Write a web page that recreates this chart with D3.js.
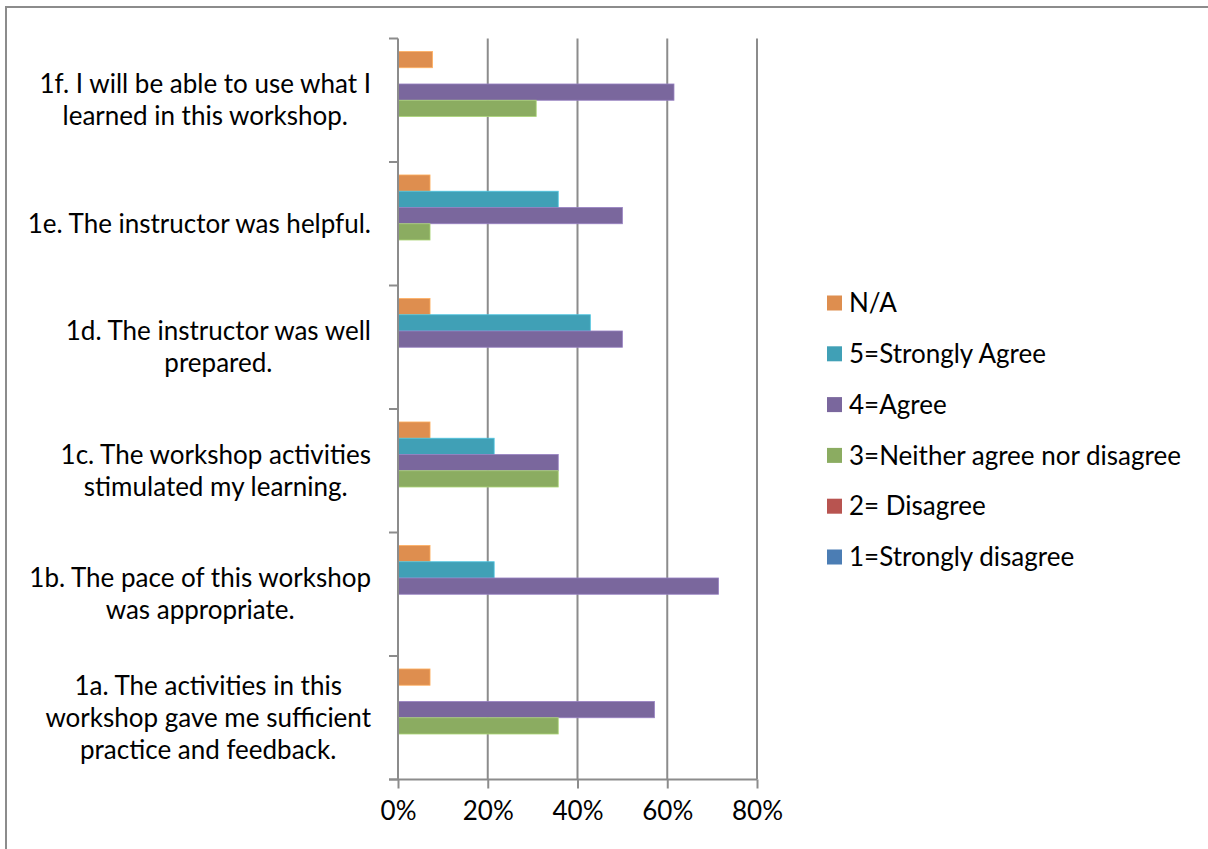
<!DOCTYPE html>
<html>
<head>
<meta charset="utf-8">
<script src="https://cdn.jsdelivr.net/npm/d3@7"></script>
<style>
  html, body { margin: 0; padding: 0; background: #fff; }
  svg { display: block; font-family: Lato, "Open Sans", sans-serif; }
</style>
</head>
<body>
<svg id="chart" width="1208" height="849"></svg>
<script>
// Survey questions, top to bottom as displayed
const questions = [
  "1f. I will be able to use what I\nlearned in this workshop.",
  "1e. The instructor was helpful.",
  "1d. The instructor was well\nprepared.",
  "1c. The workshop activities\nstimulated my learning.",
  "1b. The pace of this workshop\nwas appropriate.",
  "1a. The activities in this\nworkshop gave me sufficient\npractice and feedback."
];

// Response series (share of respondents, %) in the order of the questions above
const seriesNames = ["N/A", "5=Strongly Agree", "4=Agree", "3=Neither agree nor disagree", "2= Disagree", "1=Strongly disagree"];
const naValues       = [7.7, 7.14, 7.14, 7.14, 7.14, 7.14];
const strongAgree    = [0, 35.71, 42.86, 21.43, 21.43, 0];
const agreeValues    = [61.5, 50.0, 50.0, 35.71, 71.43, 57.14];
const neitherValues  = [30.8, 7.14, 0, 35.71, 0, 35.71];
const disagree       = [0, 0, 0, 0, 0, 0];
const strongDisagree = [0, 0, 0, 0, 0, 0];
const seriesValues = [naValues, strongAgree, agreeValues, neitherValues, disagree, strongDisagree];
const seriesColors = ["#de8e4f", "#40a0b6", "#7a679d", "#8bac61", "#b85450", "#4b7db4"];

const xTicks = [0, 20, 40, 60, 80];

const fontSize = "26px";
const svg = d3.select("#chart");

// Outer chart frame
svg.append("rect")
  .attr("x", 6).attr("y", 7)
  .attr("width", 1300).attr("height", 900)
  .attr("fill", "none").attr("stroke", "#8c8c8c").attr("stroke-width", 2);

const plot = { left: 398, right: 757, top: 38.5, bottom: 779.5 };

const x = d3.scaleLinear().domain([0, 80]).range([plot.left, plot.right]);
const y = d3.scaleBand().domain(questions).range([plot.top, plot.bottom]).paddingInner(0.21).paddingOuter(0.105);
const ySub = d3.scaleBand().domain(d3.range(seriesNames.length)).range([0, y.bandwidth()]);

// Vertical gridlines
svg.append("g")
  .selectAll("line")
  .data(xTicks.slice(1))
  .join("line")
  .attr("x1", d => x(d)).attr("x2", d => x(d))
  .attr("y1", plot.top).attr("y2", plot.bottom)
  .attr("stroke", "#8c8c8c").attr("stroke-width", 2);

// Bars
const groups = svg.append("g")
  .selectAll("g")
  .data(questions)
  .join("g")
  .attr("transform", d => `translate(0,${y(d)})`);

groups.selectAll("rect")
  .data((q, qi) => seriesValues.map((vals, si) => ({ si, v: vals[qi] })).filter(d => d.v > 0))
  .join("rect")
  .attr("x", x(0))
  .attr("y", d => ySub(d.si))
  .attr("width", d => x(d.v) - x(0))
  .attr("height", ySub.bandwidth())
  .attr("fill", d => seriesColors[d.si])
  .attr("stroke", d => d3.color(seriesColors[d.si]).brighter(0.6))
  .attr("stroke-width", 0.8);

// Category axis (band boundaries as ticks)
const bandEdges = questions.map(q => y(q) - y.step() * y.paddingInner() / 2);
bandEdges.push(plot.bottom);
const yAxisG = svg.append("g");
yAxisG.append("line")
  .attr("x1", plot.left).attr("x2", plot.left)
  .attr("y1", plot.top).attr("y2", plot.bottom)
  .attr("stroke", "#8c8c8c").attr("stroke-width", 2);
yAxisG.selectAll("line.tick")
  .data(bandEdges)
  .join("line")
  .attr("class", "tick")
  .attr("x1", plot.left - 9).attr("x2", plot.left)
  .attr("y1", d => d).attr("y2", d => d)
  .attr("stroke", "#8c8c8c").attr("stroke-width", 2);

// Value axis
const xAxisG = svg.append("g")
  .attr("transform", `translate(0,${plot.bottom})`)
  .call(d3.axisBottom(x).tickValues(xTicks).tickFormat(d => d + "%").tickSize(9).tickPadding(13));
xAxisG.select(".domain").attr("stroke", "#8c8c8c").attr("stroke-width", 2)
  .attr("d", `M${plot.left - 9},0H${plot.right}`);
xAxisG.selectAll(".tick line").attr("stroke", "#8c8c8c").attr("stroke-width", 2);
xAxisG.selectAll(".tick text")
  .attr("fill", "#000")
  .style("font-size", fontSize)
  .style("font-family", "Lato, 'Open Sans', sans-serif");

// Category labels: multi-line, centred lines, block right-aligned to the axis
const labelRight = 371;
const lineH = 32;
const labelG = svg.append("g").style("font-size", fontSize).attr("fill", "#000");
questions.forEach(q => {
  const lines = q.split("\n");
  const cy = y(q) + y.bandwidth() / 2;
  const t = labelG.append("text").attr("text-anchor", "middle");
  const spans = lines.map((ln, i) =>
    t.append("tspan")
      .attr("y", cy + (i - (lines.length - 1) / 2) * lineH)
      .attr("dy", "0.35em")
      .text(ln));
  const maxW = d3.max(spans, s => s.node().getComputedTextLength());
  spans.forEach(s => s.attr("x", labelRight - maxW / 2));
});

// Legend
const legend = svg.append("g").attr("transform", "translate(827,303)");
const legItems = legend.selectAll("g")
  .data(seriesNames)
  .join("g")
  .attr("transform", (d, i) => `translate(0,${i * 50.8})`);
legItems.append("rect")
  .attr("x", 0).attr("y", -7.5).attr("width", 15).attr("height", 15)
  .attr("fill", (d, i) => seriesColors[i]);
legItems.append("text")
  .attr("x", 22).attr("dy", "0.35em")
  .style("font-size", fontSize)
  .attr("fill", "#000")
  .text(d => d);
</script>
</body>
</html>
